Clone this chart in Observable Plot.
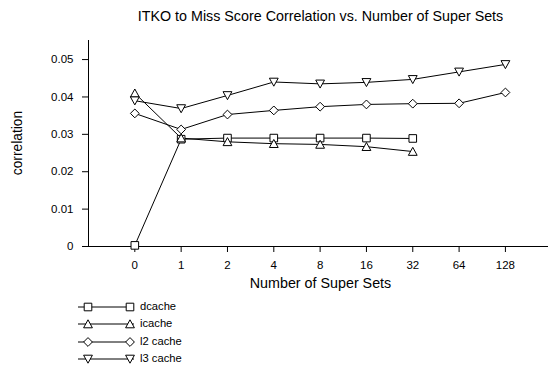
<!DOCTYPE html>
<html><head><meta charset="utf-8">
<script src="https://cdn.jsdelivr.net/npm/d3@7"></script>
<script src="https://cdn.jsdelivr.net/npm/@observablehq/plot@0.6"></script>
<style>
body{margin:0;background:#fff;font-family:"Liberation Sans",Arial,sans-serif;}
#wrap{position:relative;width:550px;height:366px;overflow:hidden;background:#fff}
#wrap svg.plot{position:absolute;left:0;top:0}
.t{position:absolute;white-space:nowrap;color:#000;line-height:1}
</style></head><body><div id="wrap"></div>
<script>
// ---- data ----
const superSets = ["0","1","2","4","8","16","32","64","128"];
const seriesNames = ["dcache","icache","l2 cache","l3 cache"];
const dcache  = [0.0003, 0.0287, 0.0290, 0.0290, 0.0290, 0.0290, 0.0289];
const icache  = [0.0410, 0.0290, 0.0280, 0.0275, 0.0273, 0.0267, 0.0254];
const l2cache = [0.0356, 0.0313, 0.0353, 0.0364, 0.0374, 0.0380, 0.0382, 0.0383, 0.0412];
const l3cache = [0.0390, 0.0369, 0.0404, 0.0440, 0.0435, 0.0439, 0.0447, 0.0467, 0.0487];
const yTicks = [0, 0.01, 0.02, 0.03, 0.04, 0.05];
const yTickLabels = ["0","0.01","0.02","0.03","0.04","0.05"];
const titleText = "ITKO to Miss Score Correlation vs. Number of Super Sets";
const xLabel = "Number of Super Sets";
const yLabel = "correlation";

// ---- symbols ----
const rad = s => Math.sqrt(s / Math.PI);
const symSquare = {draw(c, s){const h = rad(s)*0.95; c.moveTo(-h,-h); c.lineTo(h,-h); c.lineTo(h,h); c.lineTo(-h,h); c.closePath();}};
const symTriUp = {draw(c, s){const h = rad(s); c.moveTo(0,-h*1.05); c.lineTo(h*1.1,h*0.95); c.lineTo(-h*1.1,h*0.95); c.closePath();}};
const symDiamond = {draw(c, s){const h = rad(s)*1.1; c.moveTo(0,-h); c.lineTo(h,0); c.lineTo(0,h); c.lineTo(-h,0); c.closePath();}};
const symTriDown = {draw(c, s){const h = rad(s); c.moveTo(0,h*1.05); c.lineTo(h*1.1,-h*0.95); c.lineTo(-h*1.1,-h*0.95); c.closePath();}};
const symbols = [symSquare, symTriUp, symDiamond, symTriDown];
const seriesValues = [dcache, icache, l2cache, l3cache];

const rows = [];
seriesValues.forEach((vals, s) => vals.forEach((v, i) => rows.push({series: seriesNames[s], i, v})));
const xIndex = superSets.map((_, i) => i);

const chart = Plot.plot({
  width: 550, height: 300,
  marginLeft: 88, marginRight: 2, marginTop: 40, marginBottom: 54,
  style: {fontFamily: "'Liberation Sans', Arial, sans-serif", fontSize: "11.5px", background: "white", color: "black"},
  x: {domain: [-1, 8.93]},
  y: {domain: [0, 0.0551]},
  marks: [
    Plot.ruleX([-1], {stroke: "black"}),
    Plot.ruleY([0], {stroke: "black"}),
    Plot.axisX(xIndex, {tickSize: 6, tickPadding: 8, tickFormat: i => superSets[i], label: null, stroke: "black"}),
    Plot.axisY(yTicks, {tickSize: 6, tickPadding: 9, tickFormat: d => yTickLabels[yTicks.indexOf(d)], label: null, stroke: "black"}),
    ...seriesNames.map(name => Plot.line(rows.filter(r => r.series === name), {x: "i", y: "v", stroke: "black", strokeWidth: 1})),
    ...seriesNames.map((name, k) => Plot.dot(rows.filter(r => r.series === name), {x: "i", y: "v", symbol: symbols[k], r: 4, stroke: "black", fill: "white", strokeWidth: 1}))
  ]
});
chart.classList.add("plot");
const wrap = document.getElementById("wrap");
wrap.appendChild(chart);

function addText(txt, x, y, size, rotate) {
  const d = document.createElement("div");
  d.className = "t";
  d.textContent = txt;
  d.style.left = x + "px";
  d.style.top = y + "px";
  d.style.fontSize = size + "px";
  d.style.transform = "translate(-50%,-50%)" + (rotate ? " rotate(-90deg)" : "");
  wrap.appendChild(d);
}
addText(titleText, 320.5, 16, 14.3);
addText(xLabel, 320.5, 283, 14.3);
addText(yLabel, 18, 143, 13.8, true);

// ---- legend ----
seriesNames.forEach((name, k) => {
  const cy = 307 + 17.3 * k;
  const svg = d3.create("svg").attr("width", 62).attr("height", 14)
    .style("position", "absolute").style("left", "76px").style("top", (cy - 7) + "px");
  svg.append("line").attr("x1", 2).attr("x2", 58).attr("y1", 7).attr("y2", 7).attr("stroke", "black");
  [12, 54].forEach(mx => {
    svg.append("path").attr("transform", `translate(${mx},7)`)
      .attr("d", d3.symbol(symbols[k], 16 * Math.PI)())
      .attr("fill", "white").attr("stroke", "black");
  });
  wrap.appendChild(svg.node());
  const d = document.createElement("div");
  d.className = "t";
  d.textContent = name;
  d.style.left = "140px";
  d.style.top = cy + "px";
  d.style.fontSize = "11.2px";
  d.style.transform = "translate(0,-50%)";
  wrap.appendChild(d);
});
</script></body></html>
